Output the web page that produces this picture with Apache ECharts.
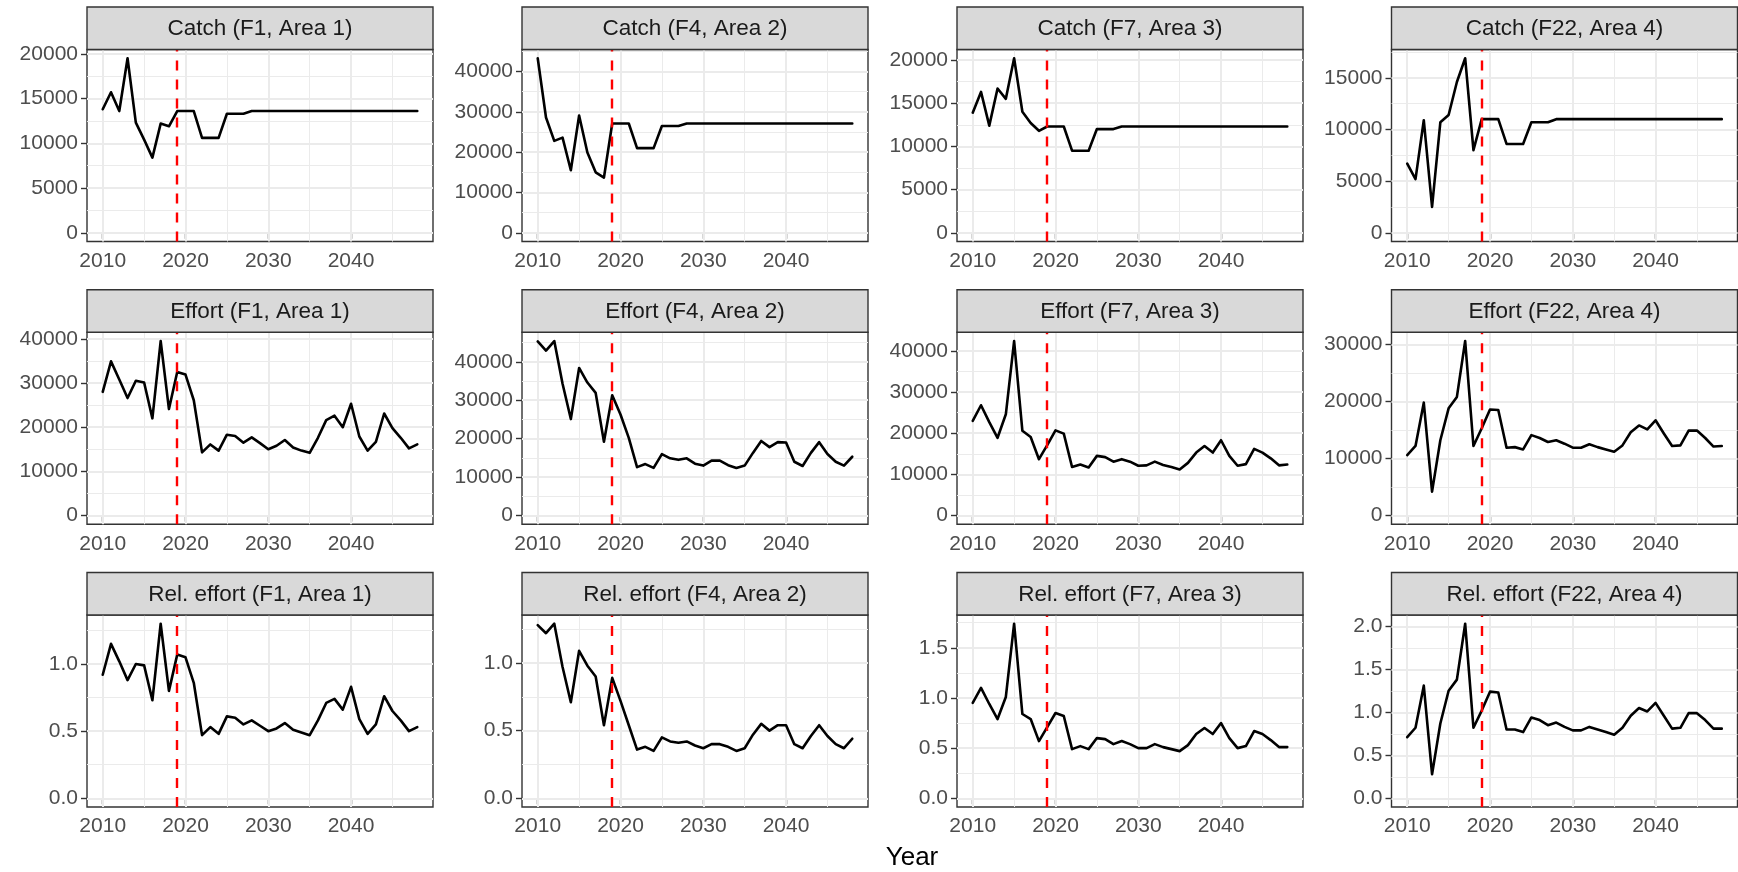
<!DOCTYPE html>
<html>
<head>
<meta charset="utf-8">
<script src="https://cdn.jsdelivr.net/npm/echarts@6/dist/echarts.min.js"></script>
<style>
html,body{margin:0;padding:0;background:#ffffff;}
#chart{width:1738px;height:872px;}
</style>
</head>
<body>
<div id="chart"></div>
<script>
// ---------------- data ----------------
const years = [2010,2011,2012,2013,2014,2015,2016,2017,2018,2019,2020,2021,2022,2023,2024,2025,2026,2027,2028,2029,2030,2031,2032,2033,2034,2035,2036,2037,2038,2039,2040,2041,2042,2043,2044,2045,2046,2047,2048];
const refYear = 2019;

const catchF1  = [13800,15700,13600,19500,12300,10400,8400,12200,11900,13600,13600,13600,10600,10600,10600,13300,13300,13300,13600,13600,13600,13600,13600,13600,13600,13600,13600,13600,13600,13600,13600,13600,13600,13600,13600,13600,13600,13600,13600];
const catchF4  = [43300,28600,22800,23600,15500,29100,19900,15000,13700,27100,27100,27100,21000,21000,21000,26500,26500,26500,27100,27100,27100,27100,27100,27100,27100,27100,27100,27100,27100,27100,27100,27100,27100,27100,27100,27100,27100,27100,27100];
const catchF7  = [13900,16300,12400,16700,15500,20200,14000,12700,11800,12300,12300,12300,9500,9500,9500,12000,12000,12000,12300,12300,12300,12300,12300,12300,12300,12300,12300,12300,12300,12300,12300,12300,12300,12300,12300,12300,12300,12300,12300];
const catchF22 = [6700,5200,10900,2500,10700,11400,14600,16900,8000,11000,11000,11000,8600,8600,8600,10700,10700,10700,11000,11000,11000,11000,11000,11000,11000,11000,11000,11000,11000,11000,11000,11000,11000,11000,11000,11000,11000,11000,11000];

const effortF1  = [28000,34900,30800,26600,30500,30100,22000,39500,24100,32500,31900,26100,14300,16100,14700,18300,18000,16500,17700,16400,15000,15800,17100,15400,14700,14200,17600,21600,22600,20000,25300,17900,14700,16700,23100,19800,17600,15200,16100];
const effortF4  = [45300,42900,45400,34300,25100,38400,34600,31900,19200,31300,26300,20200,12600,13400,12400,16000,14900,14500,14900,13500,13000,14300,14300,13100,12400,13000,16300,19400,17800,19100,19000,14000,12900,16300,19100,16000,14000,13000,15300];
const effortF7  = [23000,26800,22700,18900,24600,42400,20600,19100,13700,17100,20700,19900,11800,12400,11700,14500,14200,13100,13700,13100,12100,12200,13100,12300,11800,11200,12800,15300,16900,15300,18300,14500,12100,12500,16200,15300,13900,12200,12400];
const effortF22 = [10600,12200,19800,4200,13200,18800,20800,30600,12200,15300,18600,18500,11900,12000,11600,14100,13600,12900,13200,12600,11900,11900,12500,12000,11600,11200,12300,14600,15800,15100,16700,14400,12200,12300,14900,14900,13600,12100,12200];

const relEffortF1  = [0.92,1.15,1.02,0.88,1.00,0.99,0.73,1.30,0.80,1.07,1.05,0.86,0.47,0.53,0.48,0.61,0.60,0.55,0.58,0.54,0.50,0.52,0.56,0.51,0.49,0.47,0.58,0.71,0.74,0.66,0.83,0.59,0.48,0.55,0.76,0.65,0.58,0.50,0.53];
const relEffortF4  = [1.28,1.22,1.29,0.97,0.71,1.09,0.98,0.90,0.54,0.89,0.72,0.54,0.36,0.38,0.35,0.45,0.42,0.41,0.42,0.39,0.37,0.40,0.40,0.38,0.35,0.37,0.47,0.55,0.50,0.54,0.54,0.40,0.37,0.46,0.54,0.46,0.40,0.37,0.44];
const relEffortF7  = [0.95,1.10,0.94,0.79,1.01,1.74,0.84,0.79,0.57,0.71,0.85,0.82,0.49,0.52,0.49,0.60,0.59,0.54,0.57,0.54,0.50,0.50,0.54,0.51,0.49,0.47,0.53,0.64,0.70,0.64,0.75,0.60,0.50,0.52,0.67,0.64,0.58,0.51,0.51];
const relEffortF22 = [0.71,0.82,1.31,0.28,0.87,1.25,1.38,2.03,0.82,1.02,1.24,1.23,0.80,0.80,0.77,0.94,0.91,0.85,0.88,0.83,0.79,0.79,0.83,0.80,0.77,0.74,0.82,0.96,1.05,1.01,1.11,0.96,0.81,0.82,0.99,0.99,0.91,0.81,0.81];

// tick labels
const xTicks = [2010, 2020, 2030, 2040];
const yTicks5k  = [0, 5000, 10000, 15000, 20000];
const yTicks10k = [0, 10000, 20000, 30000, 40000];
const yTicksF22Catch  = [0, 5000, 10000, 15000];
const yTicksF22Effort = [0, 10000, 20000, 30000];
const yTicksRel1 = [0, 0.5, 1.0];
const yTicksRel15 = [0, 0.5, 1.0, 1.5];
const yTicksRel2 = [0, 0.5, 1.0, 1.5, 2.0];

const titles = [
  'Catch (F1, Area 1)', 'Catch (F4, Area 2)', 'Catch (F7, Area 3)', 'Catch (F22, Area 4)',
  'Effort (F1, Area 1)', 'Effort (F4, Area 2)', 'Effort (F7, Area 3)', 'Effort (F22, Area 4)',
  'Rel. effort (F1, Area 1)', 'Rel. effort (F4, Area 2)', 'Rel. effort (F7, Area 3)', 'Rel. effort (F22, Area 4)'
];
const panelValues = [catchF1, catchF4, catchF7, catchF22, effortF1, effortF4, effortF7, effortF22, relEffortF1, relEffortF4, relEffortF7, relEffortF22];
const panelTicks  = [yTicks5k, yTicks10k, yTicks5k, yTicksF22Catch, yTicks10k, yTicks10k, yTicks10k, yTicksF22Effort, yTicksRel1, yTicksRel1, yTicksRel15, yTicksRel2];
const panelDecimals = [0,0,0,0,0,0,0,0,1,1,1,1];

// ---------------- layout / style ----------------
const FONT = '"Liberation Sans", Arial, Helvetica, sans-serif';
const colLeft = [87, 522, 957, 1391.5];
const rowTop = [7, 289.8, 572.5];
const stripH = 42.5, plotW = 346, plotH = 192;
const GRID_COLOR = '#EBEBEB';

const grids = [], xAxes = [], yAxes = [], series = [], graphics = [];

function minorsOf(ticks, lo, hi) {
  const step = ticks[1] - ticks[0];
  const out = [];
  [ticks[0] - step / 2].concat(ticks.map(t => t + step / 2)).forEach(v => {
    if (v > lo && v < hi) out.push(v);
  });
  return out;
}

const xMin = years[0] - 0.05 * (years[years.length - 1] - years[0]);
const xMax = years[years.length - 1] + 0.05 * (years[years.length - 1] - years[0]);
const xMinor = minorsOf(xTicks, xMin, xMax);

panelValues.forEach((vals, i) => {
  const r = Math.floor(i / 4), c = i % 4;
  const left = colLeft[c], top = rowTop[r] + stripH;
  const dMax = Math.max.apply(null, vals);
  const yMin = -0.05 * dMax, yMax = 1.05 * dMax;
  const ticks = panelTicks[i];
  const yMinor = minorsOf(ticks, yMin, yMax);
  const dec = panelDecimals[i];

  grids.push({
    left: left, top: top, width: plotW, height: plotH,
    show: true, backgroundColor: '#ffffff', borderColor: '#333333', borderWidth: 1.4,
    containLabel: false, outerBoundsMode: 'none'
  });
  xAxes.push({
    gridIndex: i, type: 'value', min: xMin, max: xMax,
    axisLine: { show: false },
    splitLine: { show: false },
    axisTick: { show: true, customValues: xTicks, length: 6, lineStyle: { color: '#333333', width: 1.4 } },
    axisLabel: { customValues: xTicks, color: '#4D4D4D', fontSize: 21, fontFamily: FONT, margin: 9,
      formatter: v => String(v) }
  });
  yAxes.push({
    gridIndex: i, type: 'value', min: yMin, max: yMax,
    axisLine: { show: false },
    splitLine: { show: false },
    axisTick: { show: true, customValues: ticks, length: 6, lineStyle: { color: '#333333', width: 1.4 } },
    axisLabel: { customValues: ticks, color: '#4D4D4D', fontSize: 21, fontFamily: FONT, margin: 9,
      formatter: v => dec ? Number(v).toFixed(dec) : String(Math.round(v)) }
  });

  const gridLines = [];
  xMinor.forEach(v => gridLines.push({ xAxis: v, lineStyle: { width: 1, color: GRID_COLOR, type: 'solid' } }));
  yMinor.forEach(v => gridLines.push({ yAxis: v, lineStyle: { width: 1, color: GRID_COLOR, type: 'solid' } }));
  xTicks.forEach(v => gridLines.push({ xAxis: v, lineStyle: { width: 2, color: GRID_COLOR, type: 'solid' } }));
  ticks.forEach(v => gridLines.push({ yAxis: v, lineStyle: { width: 2, color: GRID_COLOR, type: 'solid' } }));

  series.push({
    type: 'line', xAxisIndex: i, yAxisIndex: i, data: [], z: 1, silent: true,
    markLine: { z: 1, silent: true, symbol: ['none', 'none'], label: { show: false }, animation: false,
      emphasis: { disabled: true }, data: gridLines }
  });
  series.push({
    type: 'line', xAxisIndex: i, yAxisIndex: i, z: 3, silent: true,
    data: years.map((y, k) => [y, vals[k]]),
    showSymbol: false, symbol: 'none',
    lineStyle: { color: '#000000', width: 2.6, join: 'round', cap: 'round' },
    emphasis: { disabled: true }
  });
  series.push({
    type: 'line', xAxisIndex: i, yAxisIndex: i, data: [], z: 6, silent: true,
    markLine: { z: 6, silent: true, symbol: ['none', 'none'], label: { show: false }, animation: false,
      emphasis: { disabled: true },
      data: [{ xAxis: refYear, lineStyle: { color: '#FF0000', width: 2.4, type: [10, 9] } }] }
  });

  graphics.push({
    type: 'rect', z: 50,
    shape: { x: left, y: rowTop[r], width: plotW, height: stripH },
    style: { fill: '#D9D9D9', stroke: '#333333', lineWidth: 1.4 }
  });
  graphics.push({
    type: 'text', z: 51,
    x: left + plotW / 2, y: rowTop[r] + stripH / 2 + 1,
    style: { text: titles[i], fill: '#1A1A1A', font: '22.5px ' + FONT, textAlign: 'center', textVerticalAlign: 'middle' }
  });
});

graphics.push({
  type: 'text', z: 51, x: 912, y: 858,
  style: { text: 'Year', fill: '#000000', font: '26px ' + FONT, textAlign: 'center', textVerticalAlign: 'middle' }
});

const chart = echarts.init(document.getElementById('chart'), null, { renderer: 'canvas' });
chart.setOption({
  animation: false,
  backgroundColor: '#ffffff',
  textStyle: { fontFamily: FONT },
  grid: grids,
  xAxis: xAxes,
  yAxis: yAxes,
  series: series,
  graphic: graphics
});
</script>
</body>
</html>
